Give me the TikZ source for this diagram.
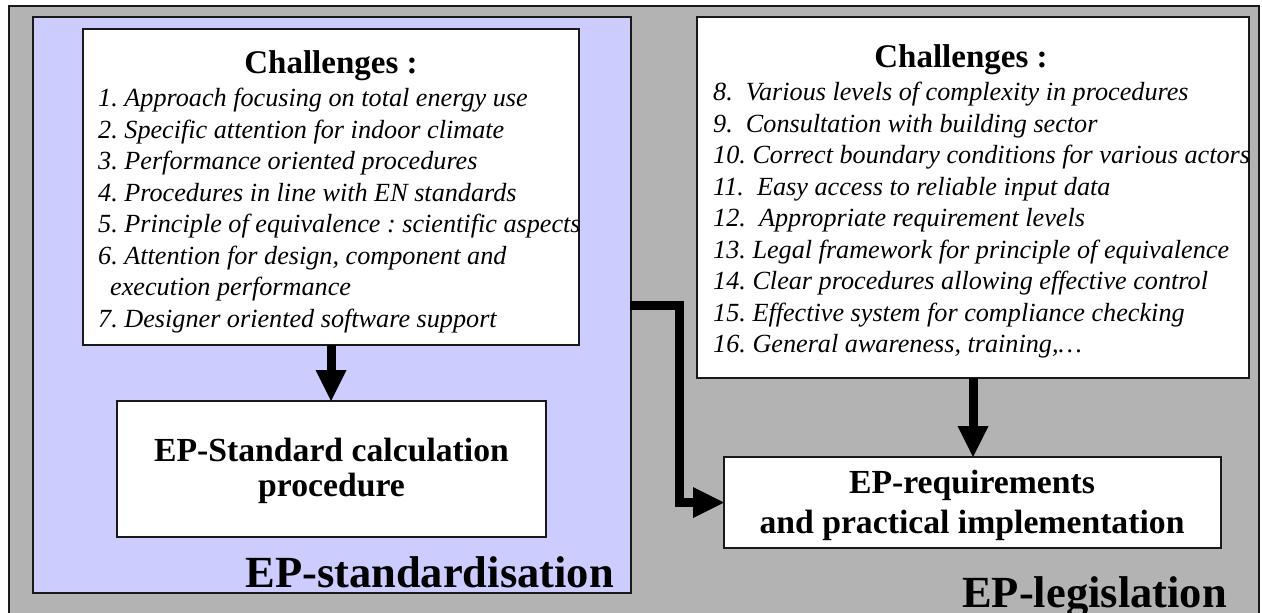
\documentclass[tikz,border=0pt]{standalone}
\usepackage{fontspec}
\setmainfont{Liberation Serif}
\usetikzlibrary{arrows.meta}
\definecolor{bggray}{RGB}{179,179,179}
\definecolor{lav}{RGB}{204,204,255}
\definecolor{edgec}{RGB}{25,25,25}
\begin{document}
\begin{tikzpicture}[x=1pt,y=-1pt,
  boxframe/.style={draw=edgec, line width=1.8pt, inner sep=0pt, outer sep=0pt, anchor=north west},
  whitebox/.style={boxframe, fill=white},
  ttl/.style={font=\fontsize{33}{40}\selectfont\bfseries, inner sep=0pt, anchor=base},
  itemlist/.style={font=\fontsize{26.2}{31.5}\selectfont\itshape\frenchspacing, align=left, inner sep=0pt, anchor=north west},
  bigtext/.style={font=\fontsize{33.7}{35}\selectfont\bfseries, align=center, inner sep=0pt, anchor=north},
  hugetext/.style={font=\fontsize{44.5}{50}\selectfont\bfseries, inner sep=0pt, anchor=base east},
  flowarrow/.style={line width=9pt, -{Triangle[length=31pt,width=31pt,line width=0pt]}, line join=miter}
]
\useasboundingbox (0,0) rectangle (1262,613);
\clip (0,0) rectangle (1262,613);
% panels
\node[boxframe, fill=bggray, minimum width=1250pt, minimum height=640pt] (outer) at (9,6) {};
\node[boxframe, fill=lav, minimum width=598pt, minimum height=576pt] (lav) at (33,17) {};
% boxes
\node[whitebox, minimum width=496pt, minimum height=316pt] (lbox) at (83,29) {};
\node[whitebox, minimum width=552pt, minimum height=361pt] (rbox) at (697,17) {};
\node[whitebox, minimum width=429pt, minimum height=136pt] (epstd) at (117,401) {};
\node[whitebox, minimum width=497pt, minimum height=91pt] (epreq) at (724,457) {};
% connectors
\coordinate (e1) at (630,305);
\coordinate (e2) at (679,305);
\coordinate (e3) at (679,502.5);
\draw[flowarrow] (lbox.south) -- (lbox.south |- epstd.north);
\draw[flowarrow] (rbox.south) -- (rbox.south |- epreq.north);
\draw[flowarrow] (e1) -- (e2) -- (e3) -- (epreq.west);
% texts
\node[ttl] (ltitle) at (331,73) {Challenges :};
\node[itemlist] (litems) at (98,88) {1. Approach focusing on total energy use\\
2. Specific attention for indoor climate\\
3. Performance oriented procedures\\
4. Procedures in line with EN standards\\
5. Principle of equivalence : scientific aspects\\
6. Attention for design, component and\\
\hspace*{12pt}execution performance\\
7. Designer oriented software support};
\node[ttl] (rtitle) at (961,67) {Challenges :};
\node[itemlist] (ritems) at (713,82) {8.\ \ Various levels of complexity in procedures\\
9.\ \ Consultation with building sector\\
10. Correct boundary conditions for various actors\\
11.\ \ Easy access to reliable input data\\
12.\ \ Appropriate requirement levels\\
13. Legal framework for principle of equivalence\\
14. Clear procedures allowing effective control\\
15. Effective system for compliance checking\\
16. General awareness, training,…};
\node[bigtext] (epstdtext) at (331.5,438) {EP-Standard calculation\\procedure};
\node[bigtext, font=\fontsize{33.7}{40}\selectfont\bfseries] (epreqtext) at (972,470) {EP-requirements\\and practical implementation};
\node[hugetext] (stdlabel) at (614,587) {EP-standardisation};
\node[hugetext] (leglabel) at (1227,607) {EP-legislation};
\end{tikzpicture}
\end{document}
